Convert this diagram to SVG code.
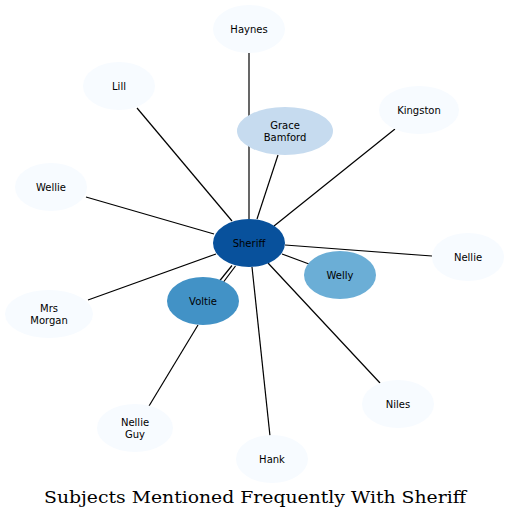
<svg xmlns="http://www.w3.org/2000/svg" width="510" height="520" viewBox="0 0 510 520">
<style>
.n text{font-family:"DejaVu Sans",sans-serif;font-size:10px;text-anchor:middle;fill:#000}
.e line{stroke:#000;stroke-width:1.2}
.t{font-family:"DejaVu Serif","Liberation Serif",serif;font-size:17.5px;text-anchor:middle;fill:#000}
.l0{fill:#f7fbff}
</style>
<rect width="510" height="520" fill="#fff"/>
<g id="edges" class="e">
<line x1="249" y1="53" x2="249" y2="219"/>
<line x1="137" y1="108" x2="232" y2="221"/>
<line x1="278" y1="155" x2="257" y2="219"/>
<line x1="395" y1="129" x2="274" y2="226"/>
<line x1="86" y1="197" x2="214" y2="234"/>
<line x1="432" y1="256" x2="285" y2="245"/>
<line x1="309" y1="264" x2="282" y2="254"/>
<line x1="232" y1="265.5" x2="219.5" y2="281"/>
<line x1="235.5" y1="266" x2="223.5" y2="282"/>
<line x1="88" y1="300" x2="216" y2="254"/>
<line x1="149" y1="406" x2="198" y2="325"/>
<line x1="270" y1="436" x2="252" y2="267"/>
<line x1="380" y1="383" x2="268" y2="263"/>
</g>
<g id="haynes" class="n"><ellipse class="l0" cx="249" cy="29" rx="36" ry="24"/><text x="249" y="32.5">Haynes</text></g>
<g id="lill" class="n"><ellipse class="l0" cx="119" cy="86" rx="36" ry="24"/><text x="119" y="89.5">Lill</text></g>
<g id="grace" class="n"><ellipse fill="#c6dbef" cx="285" cy="131" rx="48" ry="24"/><text x="285" y="128.5">Grace</text><text x="285" y="140.5">Bamford</text></g>
<g id="kingston" class="n"><ellipse class="l0" cx="419" cy="110" rx="40" ry="24"/><text x="419" y="113.5">Kingston</text></g>
<g id="wellie" class="n"><ellipse class="l0" cx="51" cy="187" rx="36" ry="24"/><text x="51" y="190.5">Wellie</text></g>
<g id="sheriff" class="n"><ellipse fill="#08519c" cx="249" cy="243" rx="36" ry="24"/><text x="249" y="246.5">Sheriff</text></g>
<g id="nellie" class="n"><ellipse class="l0" cx="468" cy="257" rx="36" ry="24"/><text x="468" y="260.5">Nellie</text></g>
<g id="welly" class="n"><ellipse fill="#6baed6" cx="340" cy="275" rx="36" ry="24"/><text x="340" y="278.5">Welly</text></g>
<g id="voltie" class="n"><ellipse fill="#4292c6" cx="203" cy="301" rx="36" ry="24"/><text x="203" y="304.5">Voltie</text></g>
<g id="mrsmorgan" class="n"><ellipse class="l0" cx="49" cy="314" rx="44" ry="24"/><text x="49" y="311.5">Mrs</text><text x="49" y="323.5">Morgan</text></g>
<g id="nellieguy" class="n"><ellipse class="l0" cx="135" cy="428" rx="38" ry="24"/><text x="135" y="425.5">Nellie</text><text x="135" y="437.5">Guy</text></g>
<g id="hank" class="n"><ellipse class="l0" cx="272" cy="459" rx="36" ry="24"/><text x="272" y="462.5">Hank</text></g>
<g id="niles" class="n"><ellipse class="l0" cx="398" cy="404" rx="36" ry="24"/><text x="398" y="407.5">Niles</text></g>
<text class="t" x="255" y="503" textLength="422" lengthAdjust="spacingAndGlyphs">Subjects Mentioned Frequently With Sheriff</text>
</svg>
